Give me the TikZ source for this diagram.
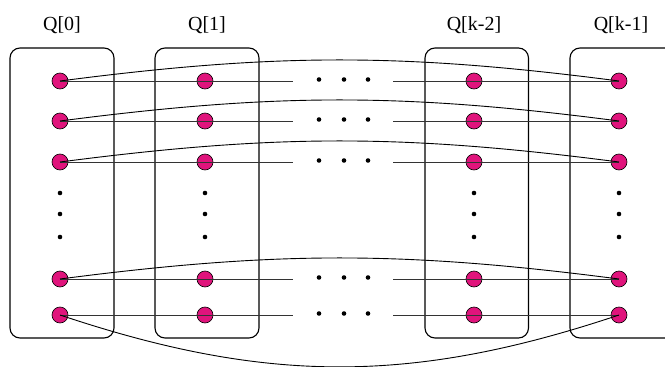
\documentclass[tikz,border=0pt]{standalone}
\usepackage{fontspec}
\setmainfont{Liberation Serif}
\definecolor{dotred}{RGB}{224,20,124}
\begin{document}
\begin{tikzpicture}[x=1pt,y=-1pt,
  queue/.style={draw,line width=1.1pt,rounded corners=10pt},
  elem/.style={circle,draw,line width=0.6pt,fill=dotred,minimum size=16pt,inner sep=0pt},
  pt/.style={circle,fill=black,minimum size=4.6pt,inner sep=0pt},
  title/.style={font=\fontsize{20}{24}\selectfont},
  link/.style={black!80,line width=0.8pt},
  wrap/.style={black,line width=0.9pt}]
\useasboundingbox (0,0) rectangle (665,367);

% queue boxes
\draw[queue] (10,48) rectangle (114,338);
\draw[queue] (155,48) rectangle (259,338);
\draw[queue] (425,48) rectangle (528.5,338);
\draw[queue] (570,48) rectangle (675,338);

% titles
\node[title] (t0) at (62,25) {Q[0]};
\node[title] (t1) at (207,25) {Q[1]};
\node[title] (t2) at (474,25) {Q[k-2]};
\node[title] (t3) at (621,25) {Q[k-1]};

% elements of each queue
\foreach \c/\x in {0/60,1/205,2/474,3/619}{
  \foreach \r/\y in {1/81,2/121,3/162,4/279,5/315}{
    \node[elem] (c\c r\r) at (\x,\y) {};
  }
  \node[pt] (v\c a) at (\x,193) {};
  \node[pt] (v\c b) at (\x,214) {};
  \node[pt] (v\c c) at (\x,237) {};
}

% straight links, broken by the ellipsis in the middle
\foreach \r/\y in {1/81,2/121,3/162,4/279,5/315}{
  \coordinate (gl\r) at (293,\y);
  \coordinate (gr\r) at (393,\y);
  \draw[link] (c0r\r.center) -- (gl\r);
  \draw[link] (gr\r) -- (c3r\r.center);
  \node[pt] (h\r a) at (319,\y-1.5) {};
  \node[pt] (h\r b) at (344,\y-1.5) {};
  \node[pt] (h\r c) at (368,\y-1.5) {};
}

% wrap-around links from the first to the last queue
\foreach \r in {1,2,3,4}{
  \draw[wrap] (c0r\r.center) to[bend left=7.4] (c3r\r.center);
}
\draw[wrap] (c0r5.center) to[bend right=18.5] (c3r5.center);
\end{tikzpicture}
\end{document}
